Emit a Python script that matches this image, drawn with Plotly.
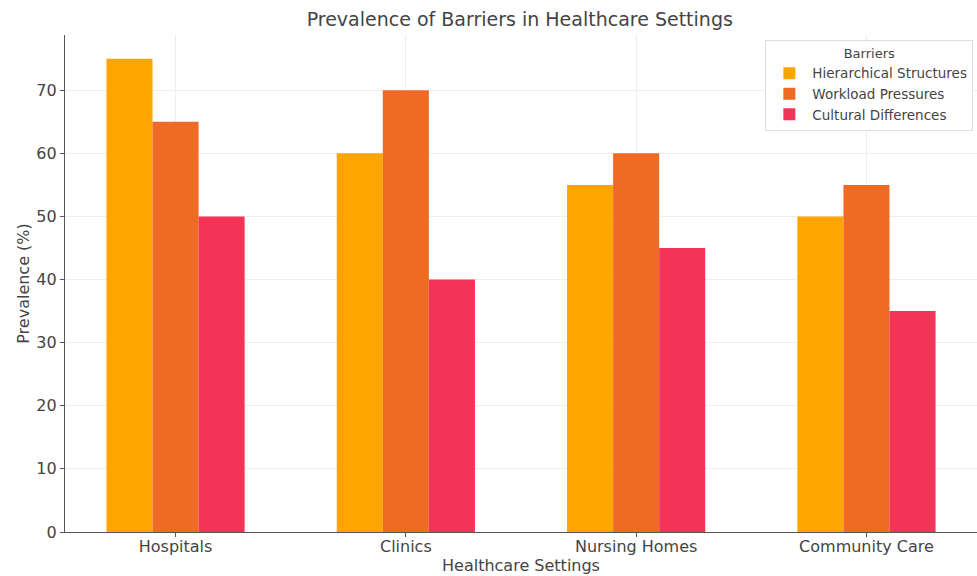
import plotly.graph_objects as go

settings = ["Hospitals", "Clinics", "Nursing Homes", "Community Care"]
hierarchical = [75, 60, 55, 50]
workload = [65, 70, 60, 55]
cultural = [50, 40, 45, 35]
series_names = ["Hierarchical Structures", "Workload Pressures", "Cultural Differences"]
colors = ["#FDA602", "#EF6A25", "#F33358"]

font_family = "DejaVu Sans, Verdana, sans-serif"
axis_color = "#555555"
text_color = "#444444"

fig = go.Figure()
for name, vals, col in zip(series_names, [hierarchical, workload, cultural], colors):
    fig.add_trace(go.Bar(
        x=settings, y=vals, name=name,
        marker=dict(color=col, line=dict(width=0)),
    ))

fig.update_layout(
    width=977, height=576,
    margin=dict(l=65, r=0, t=35, b=44),
    paper_bgcolor="white", plot_bgcolor="white",
    barmode="group", bargap=0.4, bargroupgap=0,
    font=dict(family=font_family, color=text_color, size=16),
    title=dict(text="Prevalence of Barriers in Healthcare Settings",
               x=0.532, xanchor="center", y=0.966, yanchor="middle",
               font=dict(size=19, color=text_color)),
    legend=dict(
        title=dict(text="Barriers", side="top center", font=dict(size=13)),
        x=0.996, xanchor="right", y=0.99, yanchor="top",
        bordercolor="#dddddd", borderwidth=1, bgcolor="rgba(255,255,255,0.85)",
        font=dict(size=13.5), itemwidth=36, tracegroupgap=0,
    ),
    xaxis=dict(
        range=[-0.48, 3.48], showline=True, linecolor=axis_color, linewidth=1.2,
        ticks="outside", ticklen=4, tickcolor=axis_color, ticklabelstandoff=-4,
        showgrid=True, gridcolor="#eeeeee", gridwidth=1,
        tickfont=dict(size=16, color=text_color),
        title=dict(text="Healthcare Settings", font=dict(size=16), standoff=4),
    ),
    yaxis=dict(
        range=[0, 78.75], dtick=10, showline=True, linecolor=axis_color, linewidth=1.2,
        ticks="outside", ticklen=4, tickcolor=axis_color,
        showgrid=True, gridcolor="#eeeeee", gridwidth=1, zeroline=False,
        tickfont=dict(size=16, color=text_color),
        title=dict(text="Prevalence (%)", font=dict(size=16), standoff=2),
    ),
)

fig.write_html("out.html")
